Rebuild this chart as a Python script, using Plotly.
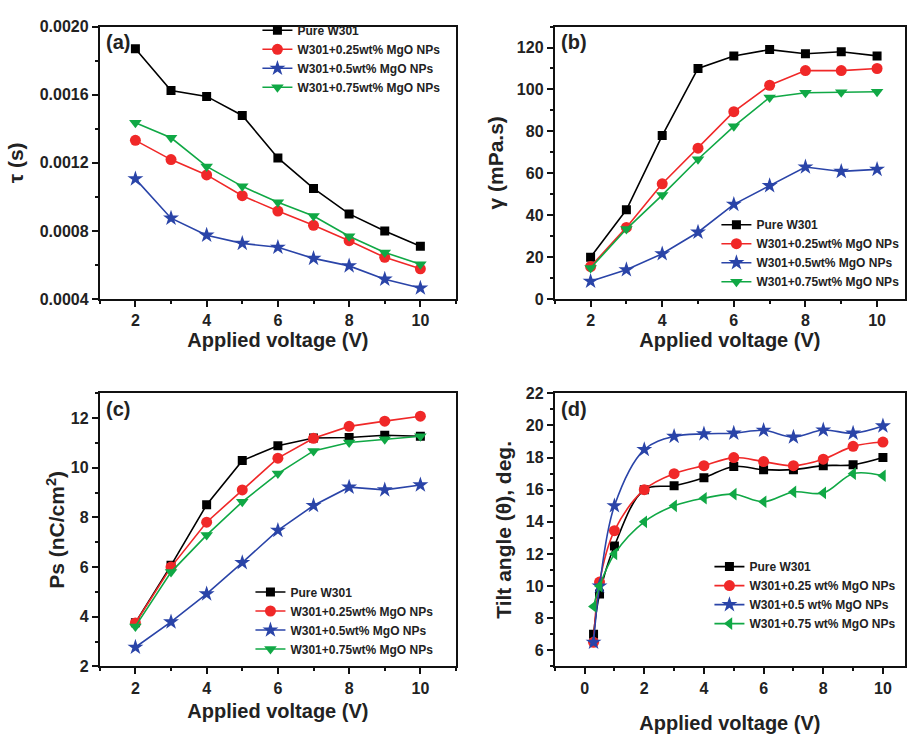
import plotly.graph_objects as go

# ---------------- data ----------------
series_names = ["Pure W301", "W301+0.25wt% MgO NPs", "W301+0.5wt% MgO NPs", "W301+0.75wt% MgO NPs"]
series_names_d = ["Pure W301", "W301+0.25 wt% MgO NPs", "W301+0.5 wt% MgO NPs", "W301+0.75 wt% MgO NPs"]

voltage = [2, 3, 4, 5, 6, 7, 8, 9, 10]
voltage_d = [0.3, 0.5, 1, 2, 3, 4, 5, 6, 7, 8, 9, 10]

# (a) response time tau (s)
tau_pure = [0.00187, 0.001625, 0.00159, 0.001478, 0.001229, 0.00105, 0.0009, 0.0008, 0.00071]
tau_025 = [0.001332, 0.001219, 0.001129, 0.001007, 0.000917, 0.000833, 0.000743, 0.000645, 0.000578]
tau_05 = [0.001106, 0.000875, 0.000775, 0.000727, 0.000704, 0.000639, 0.000595, 0.000517, 0.000465]
tau_075 = [0.001435, 0.001347, 0.001179, 0.001062, 0.000968, 0.000888, 0.000769, 0.000674, 0.000605]

# (b) rotational viscosity gamma (mPa.s)
gam_pure = [20.0, 42.6, 78.0, 110.0, 116.0, 119.0, 117.0, 118.0, 116.0]
gam_025 = [15.5, 34.2, 55.0, 72.0, 89.4, 102.0, 109.0, 109.0, 110.0]
gam_05 = [8.5, 14.0, 21.6, 31.9, 45.2, 54.1, 63.0, 60.9, 61.9]
gam_075 = [14.8, 33.4, 49.6, 66.7, 82.4, 96.2, 98.4, 98.7, 98.9]

# (c) spontaneous polarization Ps (nC/cm2)
ps_pure = [3.76, 6.07, 8.51, 10.29, 10.89, 11.2, 11.22, 11.31, 11.27]
ps_025 = [3.75, 6.0, 7.81, 9.11, 10.39, 11.19, 11.67, 11.88, 12.08]
ps_05 = [2.77, 3.79, 4.92, 6.18, 7.48, 8.48, 9.22, 9.11, 9.31]
ps_075 = [3.61, 5.8, 7.29, 8.63, 9.77, 10.68, 11.02, 11.15, 11.27]

# (d) tilt angle (deg.)
tilt_pure = [7.0, 9.5, 12.5, 16.0, 16.25, 16.75, 17.45, 17.25, 17.25, 17.5, 17.55, 18.0]
tilt_025 = [6.5, 10.25, 13.45, 16.0, 17.0, 17.5, 18.0, 17.75, 17.5, 17.9, 18.7, 18.97]
tilt_05 = [6.5, 10.0, 15.0, 18.5, 19.32, 19.48, 19.52, 19.7, 19.28, 19.72, 19.52, 19.97]
tilt_075 = [8.73, 10.0, 12.0, 14.0, 15.0, 15.47, 15.72, 15.25, 15.86, 15.8, 17.0, 16.87]

colors = ["#000000", "#f02828", "#2a44a8", "#10a845"]
symbols = ["square", "circle", "star", "triangle-down"]
symbols_d = ["square", "circle", "star", "triangle-left"]
msizes = [9, 11, 12, 11]

FONT = "Liberation Sans, Arial, sans-serif"
W, H = 907, 734

def px(x):
    return x / W

def py(y):
    return 1 - y / H

fig = go.Figure()

panels = [
    dict(xs=voltage, ys=[tau_pure, tau_025, tau_05, tau_075], names=series_names, sym=symbols, ax="", legend="legend", shape="linear"),
    dict(xs=voltage, ys=[gam_pure, gam_025, gam_05, gam_075], names=series_names, sym=symbols, ax="2", legend="legend2", shape="linear"),
    dict(xs=voltage, ys=[ps_pure, ps_025, ps_05, ps_075], names=series_names, sym=symbols, ax="3", legend="legend3", shape="linear"),
    dict(xs=voltage_d, ys=[tilt_pure, tilt_025, tilt_05, tilt_075], names=series_names_d, sym=symbols_d, ax="4", legend="legend4", shape="spline"),
]

for p in panels:
    for i in range(4):
        fig.add_trace(go.Scatter(
            x=p["xs"], y=p["ys"][i], name=p["names"][i],
            mode="lines+markers",
            line=dict(color=colors[i], width=1.6, shape=p["shape"], smoothing=1.0),
            marker=dict(symbol=p["sym"][i], size=msizes[i], color=colors[i], line=dict(width=0)),
            xaxis="x" + p["ax"], yaxis="y" + p["ax"], legend=p["legend"],
        ))

tickfont = dict(family=FONT, size=16, color="#222", weight="bold")
titlefont = dict(family=FONT, size=20, color="#222", weight="bold")
ytitlefont = dict(family=FONT, size=21, color="#222", weight="bold")

def xaxis(domain, rng, anchor, dtick, minor, standoff):
    return dict(domain=domain, range=rng, anchor=anchor, dtick=dtick, tick0=0,
                showline=True, linecolor="#111", linewidth=2, mirror=True,
                ticks="outside", ticklen=6, tickwidth=2, tickcolor="#111",
                minor=dict(dtick=minor, ticks="outside", ticklen=3, tickwidth=1.5, tickcolor="#111"),
                showgrid=False, zeroline=False, tickfont=tickfont,
                title=dict(text="Applied voltage (V)", font=titlefont, standoff=standoff))

def yaxis(domain, rng, anchor, dtick, minor, title, standoff, fmt=None):
    d = dict(domain=domain, range=rng, anchor=anchor, dtick=dtick,
             showline=True, linecolor="#111", linewidth=2, mirror=True,
             ticks="outside", ticklen=6, tickwidth=2, tickcolor="#111",
             minor=dict(dtick=minor, ticks="outside", ticklen=3, tickwidth=1.5, tickcolor="#111"),
             showgrid=False, zeroline=False, tickfont=tickfont,
             title=dict(text=title, font=ytitlefont, standoff=standoff))
    if fmt:
        d["tickformat"] = fmt
    return d

top_dom = [py(298), py(19)]
bot_dom = [py(674), py(394.5)]
left_dom = [px(100), px(457)]
right_dom = [px(556), 1.0]

fig.update_layout(
    width=W, height=H, margin=dict(l=0, r=0, t=0, b=0),
    paper_bgcolor="white", plot_bgcolor="white",
    xaxis=xaxis(left_dom, [1, 11], "y", 2, 1, 2),
    yaxis=yaxis(top_dom, [0.0004, 0.0020], "x", 0.0004, 0.0002, "τ (s)", 10, ".4f"),
    xaxis2=xaxis(right_dom, [1, 10.78], "y2", 2, 1, 2),
    yaxis2=yaxis(top_dom, [0, 130], "x2", 20, 10, "γ (mPa.s)", 8),
    xaxis3=xaxis(left_dom, [1, 11], "y3", 2, 1, 8),
    yaxis3=yaxis(bot_dom, [2, 13], "x3", 2, 1, "Ps (nC/cm<sup>2</sup>)", 0),
    xaxis4=xaxis(right_dom, [-1, 10.74], "y4", 2, 1, 22),
    yaxis4=yaxis(bot_dom, [5, 22], "x4", 2, 1, "Tilt angle (θ), deg.", 8),
    showlegend=True,
)

legfont = dict(family=FONT, size=12, color="#222", weight="bold")
leg_common = dict(font=legfont, bgcolor="rgba(0,0,0,0)", borderwidth=0, itemwidth=30,
                  xanchor="left", yanchor="top", tracegroupgap=0, itemclick=False)
fig.update_layout(
    legend=dict(x=px(258), y=py(8), **leg_common),
    legend2=dict(x=px(718), y=py(207), **leg_common),
    legend3=dict(x=px(251), y=py(583), **leg_common),
    legend4=dict(x=px(711), y=py(557), **leg_common),
)

for lbl, ax in [("(a)", ""), ("(b)", "2"), ("(c)", "3"), ("(d)", "4")]:
    fig.add_annotation(text=lbl, xref="x" + ax + " domain", yref="y" + ax + " domain",
                       x=0.012, y=0.99, xanchor="left", yanchor="top", showarrow=False,
                       font=dict(family=FONT, size=20, color="#222", weight="bold"))

fig.write_html("out.html")
